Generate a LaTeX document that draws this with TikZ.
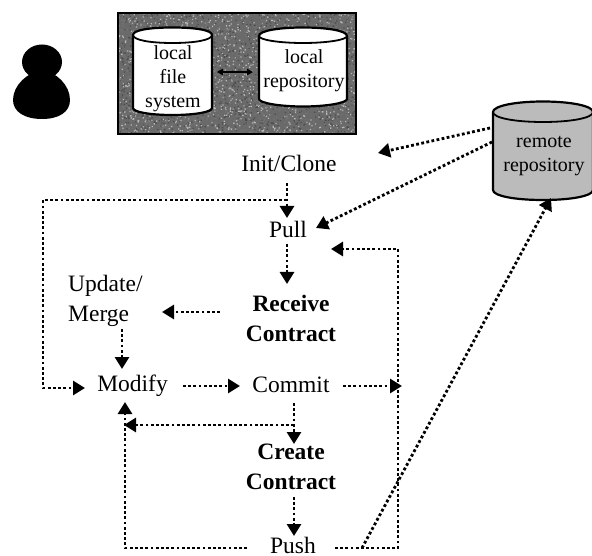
\documentclass[tikz,border=0pt]{standalone}
\usepackage{fontspec}
\setmainfont{Liberation Serif}
\usetikzlibrary{arrows.meta}
\definecolor{noisebase}{HTML}{6A6A6A}
\definecolor{remotegray}{HTML}{BBBBBB}
\tikzset{
  flow/.style={line width=2.8pt,dash pattern=on 2.8pt off 2.4pt,-{Triangle[length=12pt,width=14pt]}},
  lbl/.style={font=\fontsize{23.5}{30}\selectfont,align=center,inner sep=0pt},
  lbll/.style={lbl,align=left,anchor=west},
  lblb/.style={lbl,font=\fontsize{23.5}{30}\selectfont\bfseries},
  lblp/.style={font=\fontsize{23.5}{24}\selectfont,inner sep=0pt},
  cyl/.style={font=\fontsize{20}{24}\selectfont,align=center,inner sep=0pt},
  can/.style={draw=black,line width=2.2pt,fill=white},
}
\begin{document}
\begin{tikzpicture}[x=1pt,y=-1pt]
\useasboundingbox (0,0) rectangle (592,556);
% person
\fill[black] (42,62) ellipse [x radius=20,y radius=17.5];
\fill[black] (42,70) .. controls (28,72) and (13,85) .. (13,100)
  .. controls (13,112) and (25,119) .. (42,119)
  .. controls (59,119) and (70,112) .. (70,100)
  .. controls (70,85) and (56,72) .. (42,70) -- cycle;
% textured panel
\fill[noisebase] (118,13) rectangle (356,134);
\begin{scope}
\clip (118,13) rectangle (356,134);
\pgfmathsetseed{4242}
\foreach \shade/\n in {black!70/1500,white!72!black/1300,white!45!black/1500}{
  \fill[\shade]
  \foreach \k in {1,...,\n}{
    \pgfextra{\pgfmathsetmacro{\rx}{118+238*rnd}\pgfmathsetmacro{\ry}{13+121*rnd}}
    (\rx,\ry) rectangle ++(1.3,1.3)
  };
}
\end{scope}
\draw[black,line width=2pt] (118,13) rectangle (356,134);
% local file system
\path[can] (133,35) -- (133,108) .. controls (133,112) and (150,115) .. (172.5,115)
  .. controls (195,115) and (212,112) .. (212,108) -- (212,35)
  .. controls (212,30) and (195,27.5) .. (172.5,27.5)
  .. controls (150,27.5) and (133,30) .. (133,35) -- cycle;
\draw[black,line width=1.8pt] (133,35) .. controls (133,40) and (150,43) .. (172.5,43)
  .. controls (195,43) and (212,40) .. (212,35);
% local repository
\path[can] (259,36) -- (259,99) .. controls (259,103) and (280,106.5) .. (303,106.5)
  .. controls (326,106.5) and (347,103) .. (347,99) -- (347,36)
  .. controls (347,30.5) and (326,27.5) .. (303,27.5)
  .. controls (280,27.5) and (259,30.5) .. (259,36) -- cycle;
\draw[black,line width=1.8pt] (259,36) .. controls (259,40) and (280,43) .. (303,43)
  .. controls (326,43) and (347,40) .. (347,36);
% remote repository
\path[can,fill=remotegray] (493,112) -- (493,190) .. controls (493,196) and (515,200) .. (543,200)
  .. controls (571,200) and (593,196) .. (593,190) -- (593,112)
  .. controls (593,106) and (571,101.5) .. (543,101.5)
  .. controls (515,101.5) and (493,106) .. (493,112) -- cycle;
\draw[black,line width=1.8pt] (493,112) .. controls (493,118) and (515,122) .. (543,122)
  .. controls (571,122) and (593,118) .. (593,112);
% cylinder labels
\node[cyl] (fs) at (173,79) {local\\file\\system};
\node[cyl] (lr) at (304,71) {local\\repository};
\node[cyl] (rr) at (544,156) {remote\\repository};
% labels
\node[lbl] (init) at (289,163) {Init/Clone};
\node[lbl] (pull) at (288,229) {Pull};
\node[lblb] (recv) at (291,318) {Receive\\Contract};
\node[lbll] (upd) at (68,301) {Update/\\Merge};
\node[lbl] (mod) at (132.5,386) {Modify};
\node[lbl] (com) at (291,385) {Commit};
\node[lblb] (crea) at (291,467) {Create\\Contract};
\node[lblp] (push) at (293,545) {Push};
% connector ends
\coordinate (dL) at (217,72); \coordinate (dR) at (253,72);
\coordinate (a1) at (287,183); \coordinate (a2) at (287,218);
\coordinate (b0) at (287,200); \coordinate (b1) at (43,200); \coordinate (b2) at (43,388); \coordinate (b3) at (85,388);
\coordinate (c1) at (287,244); \coordinate (c2) at (287,284);
\coordinate (d1) at (220,312); \coordinate (d2) at (162,312);
\coordinate (e1) at (122,329); \coordinate (e2) at (122,369);
\coordinate (f1) at (183,386); \coordinate (f2) at (240,386);
\coordinate (g1) at (343,386); \coordinate (g2) at (402,386);
\coordinate (h1) at (335,548); \coordinate (h2) at (398,548); \coordinate (h3) at (398,249); \coordinate (h4) at (331,249);
\coordinate (i1) at (294,403); \coordinate (i2) at (294,444);
\coordinate (j0) at (294,425); \coordinate (j1) at (124,425);
\coordinate (k1) at (294,497); \coordinate (k2) at (294,536);
\coordinate (l1) at (247,548); \coordinate (l2) at (125,548); \coordinate (l3) at (125,402);
\coordinate (m1) at (362,548); \coordinate (m2) at (551,198);
\coordinate (n1) at (490,128); \coordinate (n2) at (378,153);
\coordinate (o1) at (492,142); \coordinate (o2) at (316,228);
% connectors
\draw[black,line width=1.2pt,{Triangle[length=6pt,width=6.5pt]}-{Triangle[length=6pt,width=6.5pt]}] (dL) -- (dR);
\draw[flow] (a1) -- (a2);
\draw[flow] (b0) -- (b1) -- (b2) -- (b3);
\draw[flow] (c1) -- (c2);
\draw[flow] (d1) -- (d2);
\draw[flow] (e1) -- (e2);
\draw[flow] (f1) -- (f2);
\draw[flow] (g1) -- (g2);
\draw[flow] (h1) -- (h2) -- (h3) -- (h4);
\draw[flow] (i1) -- (i2);
\draw[flow] (j0) -- (j1);
\draw[flow] (k1) -- (k2);
\draw[flow] (l1) -- (l2) -- (l3);
\draw[flow] (m1) -- (m2);
\draw[flow] (n1) -- (n2);
\draw[flow] (o1) -- (o2);
\end{tikzpicture}
\end{document}
